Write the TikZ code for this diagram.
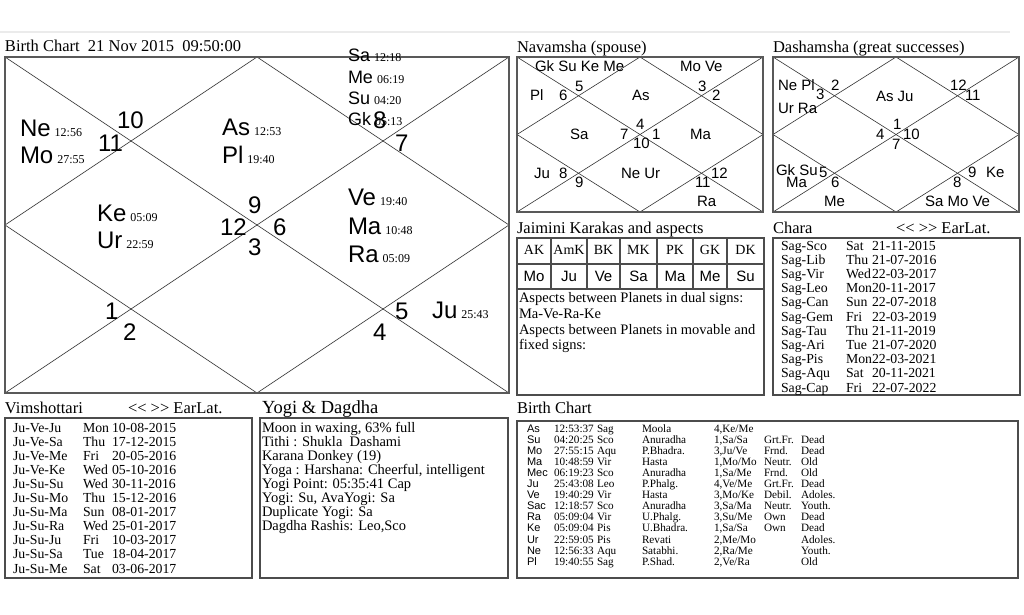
\documentclass[tikz,border=0pt]{standalone}
\usepackage{fontspec}
\setmainfont{Liberation Serif}
\newfontfamily\arialf{Liberation Sans}
\newcommand\fsz[1]{\fontsize{#1}{#1}\selectfont}
\newcommand\plbig[2]{{\arialf\fsz{24}#1}\hspace{4pt}{\fsz{12}#2}}
\newcommand\plsm[2]{{\arialf\fsz{18}#1}\hspace{4pt}{\fsz{12}#2}}
\newcommand\earlat{<{}< >{}> EarLat.}
\tikzset{
  tx/.style={anchor=base west, inner sep=0pt, outer sep=0pt},
  num/.style={tx, font=\arialf\fsz{24}},
  sm/.style={tx, font=\arialf\fsz{15}},
  ttl/.style={tx, font=\fsz{16.5}},
  txt/.style={tx, font=\fsz{14.5}},
  row/.style={tx, font=\fsz{13.8}},
  bta/.style={tx, font=\arialf\fsz{11}},
  btt/.style={tx, font=\fsz{11.2}},
  hc/.style={anchor=base, inner sep=0pt, font=\fsz{14}},
  rc/.style={anchor=base, inner sep=0pt, font=\arialf\fsz{15}},
  frame/.style={draw=black!65, line width=1.8pt},
  box/.style={draw=black!70, line width=1.2pt},
  cl/.style={draw=black!80, line width=0.6pt},
}
\newcommand\vrow[4]{%
  \node[row] (v#1a) at (13,{432+(#1-1)*14.1}) {#2};
  \node[row] (v#1b) at (83,{432+(#1-1)*14.1}) {#3};
  \node[row] (v#1c) at (112,{432+(#1-1)*14.1}) {#4};}
\newcommand\crow[4]{%
  \node[row] (c#1a) at (781,{250+(#1-1)*14.2}) {#2};
  \node[row] (c#1b) at (846,{250+(#1-1)*14.2}) {#3};
  \node[row] (c#1c) at (872,{250+(#1-1)*14.2}) {#4};}
\newcommand\brow[8]{%
  \node[bta] (b#1a) at (527,{432+(#1-1)*11.1}) {#2};
  \node[btt] (b#1b) at (554,{432+(#1-1)*11.1}) {#3};
  \node[btt] (b#1c) at (597,{432+(#1-1)*11.1}) {#4};
  \node[btt] (b#1d) at (642,{432+(#1-1)*11.1}) {#5};
  \node[btt] (b#1e) at (714,{432+(#1-1)*11.1}) {#6};
  \node[btt] (b#1f) at (764,{432+(#1-1)*11.1}) {#7};
  \node[btt] (b#1g) at (801,{432+(#1-1)*11.1}) {#8};}
\begin{document}
\begin{tikzpicture}[x=1pt,y=-1pt]
\useasboundingbox (0,0) rectangle (1024,614);
\fill[white] (0,0) rectangle (1024,614);
\draw[black!8, line width=2.5pt] (0,32) -- (1010,32);

% ---------- main chart ----------
\node[ttl] (t1) at (5,51) {Birth Chart\ \ 21 Nov 2015\ \ 09:50:00};
\coordinate (m1) at (5,57); \coordinate (m2) at (509,57);
\coordinate (m3) at (509,393); \coordinate (m4) at (5,393);
\coordinate (mt) at (257,57); \coordinate (mr) at (509,225);
\coordinate (mb) at (257,393); \coordinate (ml) at (5,225);
\draw[cl] (m1) -- (m3); \draw[cl] (m2) -- (m4);
\draw[cl] (mt) -- (mr) -- (mb) -- (ml) -- cycle;
\draw[frame] (m1) rectangle (m3);

\node[tx] (pNe) at (20,136) {\plbig{Ne}{12:56}};
\node[tx] (pMo) at (20,163) {\plbig{Mo}{27:55}};
\node[tx] (pAs) at (222,135) {\plbig{As}{12:53}};
\node[tx] (pPl) at (222,163) {\plbig{Pl}{19:40}};
\node[tx] (pSa) at (348,61) {\plsm{Sa}{12:18}};
\node[tx] (pMe) at (348,83) {\plsm{Me}{06:19}};
\node[tx] (pSu) at (348,104) {\plsm{Su}{04:20}};
\node[tx] (pGk) at (348,125) {\plsm{Gk}{05:13}};
\node[tx] (pKe) at (97,221) {\plbig{Ke}{05:09}};
\node[tx] (pUr) at (97,248) {\plbig{Ur}{22:59}};
\node[tx] (pVe) at (348,205) {\plbig{Ve}{19:40}};
\node[tx] (pMa) at (348,234) {\plbig{Ma}{10:48}};
\node[tx] (pRa) at (348,262) {\plbig{Ra}{05:09}};
\node[tx] (pJu) at (432,318) {\plbig{Ju}{25:43}};

\node[num] (h10) at (117,128) {10};
\node[num] (h11) at (98,151) {11};
\node[num] (h8) at (373,128) {8};
\node[num] (h7) at (395,151) {7};
\node[num] (h9) at (248,213) {9};
\node[num] (h12) at (220,235) {12};
\node[num] (h6) at (273,235) {6};
\node[num] (h3) at (248,255) {3};
\node[num] (h1) at (105,319) {1};
\node[num] (h2) at (123,340) {2};
\node[num] (h5) at (395,319) {5};
\node[num] (h4) at (373,340) {4};

% ---------- Navamsha ----------
\node[ttl] (t2) at (517,52) {Navamsha (spouse)};
\coordinate (n1) at (517,57); \coordinate (n2) at (763,57);
\coordinate (n3) at (763,212); \coordinate (n4) at (517,212);
\coordinate (nt) at (640,57); \coordinate (nr) at (763,134.5);
\coordinate (nb) at (640,212); \coordinate (nl) at (517,134.5);
\draw[cl] (n1) -- (n3); \draw[cl] (n2) -- (n4);
\draw[cl] (nt) -- (nr) -- (nb) -- (nl) -- cycle;
\draw[frame] (n1) rectangle (n3);
\node[sm] (na) at (535,71) {Gk Su Ke Me};
\node[sm] (nb1) at (680,71) {Mo Ve};
\node[sm] (nc) at (575,91) {5};
\node[sm] (nd) at (559,100) {6};
\node[sm] (ne) at (530,100) {Pl};
\node[sm] (nf) at (632,100) {As};
\node[sm] (ng) at (698,91) {3};
\node[sm] (nh) at (712,100) {2};
\node[sm] (ni) at (570,139) {Sa};
\node[sm] (nj) at (620,139) {7};
\node[sm] (nk) at (636,129) {4};
\node[sm] (nl1) at (652,139) {1};
\node[sm] (nm) at (633,148) {10};
\node[sm] (nn) at (690,139) {Ma};
\node[sm] (no) at (534,178) {Ju};
\node[sm] (np) at (559,178) {8};
\node[sm] (nq) at (575,187) {9};
\node[sm] (nr1) at (621,178) {Ne Ur};
\node[sm] (ns) at (711,178) {12};
\node[sm] (nt1) at (695,187) {11};
\node[sm] (nu) at (697,206) {Ra};

% ---------- Dashamsha ----------
\node[ttl] (t3) at (773,52) {Dashamsha (great successes)};
\coordinate (d1) at (773,57); \coordinate (d2) at (1019,57);
\coordinate (d3) at (1019,212); \coordinate (d4) at (773,212);
\coordinate (dt) at (896,57); \coordinate (dr) at (1019,134.5);
\coordinate (db) at (896,212); \coordinate (dl) at (773,134.5);
\draw[cl] (d1) -- (d3); \draw[cl] (d2) -- (d4);
\draw[cl] (dt) -- (dr) -- (db) -- (dl) -- cycle;
\draw[frame] (d1) rectangle (d3);
\node[sm] (da) at (778,90) {Ne Pl};
\node[sm] (dbb) at (816,99) {3};
\node[sm] (dc) at (831,90) {2};
\node[sm] (dd) at (778,113) {Ur Ra};
\node[sm] (de) at (876,101) {As Ju};
\node[sm] (df) at (950,90) {12};
\node[sm] (dg) at (965,100) {11};
\node[sm] (dh) at (893,129) {1};
\node[sm] (di) at (876,139) {4};
\node[sm] (dj) at (903,139) {10};
\node[sm] (dk) at (892,149) {7};
\node[sm] (dl1) at (776,175) {Gk Su};
\node[sm] (dm) at (819,177) {5};
\node[sm] (dn) at (786,187) {Ma};
\node[sm] (do) at (831,187) {6};
\node[sm] (dp) at (968,177) {9};
\node[sm] (dq) at (986,177) {Ke};
\node[sm] (dr1) at (953,187) {8};
\node[sm] (ds) at (824,206) {Me};
\node[sm] (dt1) at (925,206) {Sa Mo Ve};

% ---------- Jaimini ----------
\node[ttl] (t4) at (517,233) {Jaimini Karakas and aspects};
\draw[box] (517,238) rectangle (764,395);
\draw[box] (517,264) -- (764,264);
\draw[box] (517,289) -- (764,289);
\foreach \xx in {551,587,620,657,693,727} \draw[box] (\xx,238) -- (\xx,289);
\foreach \cx/\h/\r [count=\i] in {534/AK/Mo,569/AmK/Ju,603.5/BK/Ve,638.5/MK/Sa,675/PK/Ma,710/GK/Me,745.5/DK/Su}{
  \node[hc] (jh\i) at (\cx,254) {\h};
  \node[rc] (jr\i) at (\cx,281) {\r};
}
\node[txt] (ja) at (519,302) {Aspects between Planets in dual signs:};
\node[txt] (jb) at (519,318) {Ma-Ve-Ra-Ke};
\node[txt] (jc) at (519,334) {Aspects between Planets in movable and};
\node[txt] (jd) at (519,349) {fixed signs:};

% ---------- Chara ----------
\node[ttl] (t5) at (773,233) {Chara};
\node[ttl] (t5b) at (896,233) {\earlat};
\draw[box] (773,238) rectangle (1020,395);
\crow{1}{Sag-Sco}{Sat}{21-11-2015}
\crow{2}{Sag-Lib}{Thu}{21-07-2016}
\crow{3}{Sag-Vir}{Wed}{22-03-2017}
\crow{4}{Sag-Leo}{Mon}{20-11-2017}
\crow{5}{Sag-Can}{Sun}{22-07-2018}
\crow{6}{Sag-Gem}{Fri}{22-03-2019}
\crow{7}{Sag-Tau}{Thu}{21-11-2019}
\crow{8}{Sag-Ari}{Tue}{21-07-2020}
\crow{9}{Sag-Pis}{Mon}{22-03-2021}
\crow{10}{Sag-Aqu}{Sat}{20-11-2021}
\crow{11}{Sag-Cap}{Fri}{22-07-2022}

% ---------- Vimshottari ----------
\node[ttl] (t6) at (5,413) {Vimshottari};
\node[ttl] (t6b) at (128,413) {\earlat};
\draw[box] (5,418) rectangle (252,578);
\vrow{1}{Ju-Ve-Ju}{Mon}{10-08-2015}
\vrow{2}{Ju-Ve-Sa}{Thu}{17-12-2015}
\vrow{3}{Ju-Ve-Me}{Fri}{20-05-2016}
\vrow{4}{Ju-Ve-Ke}{Wed}{05-10-2016}
\vrow{5}{Ju-Su-Su}{Wed}{30-11-2016}
\vrow{6}{Ju-Su-Mo}{Thu}{15-12-2016}
\vrow{7}{Ju-Su-Ma}{Sun}{08-01-2017}
\vrow{8}{Ju-Su-Ra}{Wed}{25-01-2017}
\vrow{9}{Ju-Su-Ju}{Fri}{10-03-2017}
\vrow{10}{Ju-Su-Sa}{Tue}{18-04-2017}
\vrow{11}{Ju-Su-Me}{Sat}{03-06-2017}

% ---------- Yogi ----------
\node[tx, font=\fsz{18.5}] (t7) at (262,413) {Yogi \& Dagdha};
\draw[box] (260,418) rectangle (508,578);
\node[txt] (y1) at (262,432) {Moon in waxing, 63\% full};
\node[txt] (y2) at (262,446) {Tithi : Shukla\ \ Dashami};
\node[txt] (y3) at (262,460) {Karana Donkey (19)};
\node[txt] (y4) at (262,474) {Yoga : Harshana: Cheerful, intelligent};
\node[txt] (y5) at (262,488) {Yogi Point: 05:35:41 Cap};
\node[txt] (y6) at (262,502) {Yogi: Su, AvaYogi: Sa};
\node[txt] (y7) at (262,516) {Duplicate Yogi: Sa};
\node[txt] (y8) at (262,530) {Dagdha Rashis: Leo,Sco};

% ---------- Birth chart table ----------
\node[ttl] (t8) at (517,413) {Birth Chart};
\draw[box] (517,421) rectangle (1018,578);
\brow{1}{As}{12:53:37}{Sag}{Moola}{4,Ke/Me}{}{}
\brow{2}{Su}{04:20:25}{Sco}{Anuradha}{1,Sa/Sa}{Grt.Fr.}{Dead}
\brow{3}{Mo}{27:55:15}{Aqu}{P.Bhadra.}{3,Ju/Ve}{Frnd.}{Dead}
\brow{4}{Ma}{10:48:59}{Vir}{Hasta}{1,Mo/Mo}{Neutr.}{Old}
\brow{5}{Mec}{06:19:23}{Sco}{Anuradha}{1,Sa/Me}{Frnd.}{Old}
\brow{6}{Ju}{25:43:08}{Leo}{P.Phalg.}{4,Ve/Me}{Grt.Fr.}{Dead}
\brow{7}{Ve}{19:40:29}{Vir}{Hasta}{3,Mo/Ke}{Debil.}{Adoles.}
\brow{8}{Sac}{12:18:57}{Sco}{Anuradha}{3,Sa/Ma}{Neutr.}{Youth.}
\brow{9}{Ra}{05:09:04}{Vir}{U.Phalg.}{3,Su/Me}{Own}{Dead}
\brow{10}{Ke}{05:09:04}{Pis}{U.Bhadra.}{1,Sa/Sa}{Own}{Dead}
\brow{11}{Ur}{22:59:05}{Pis}{Revati}{2,Me/Mo}{}{Adoles.}
\brow{12}{Ne}{12:56:33}{Aqu}{Satabhi.}{2,Ra/Me}{}{Youth.}
\brow{13}{Pl}{19:40:55}{Sag}{P.Shad.}{2,Ve/Ra}{}{Old}
\end{tikzpicture}
\end{document}
